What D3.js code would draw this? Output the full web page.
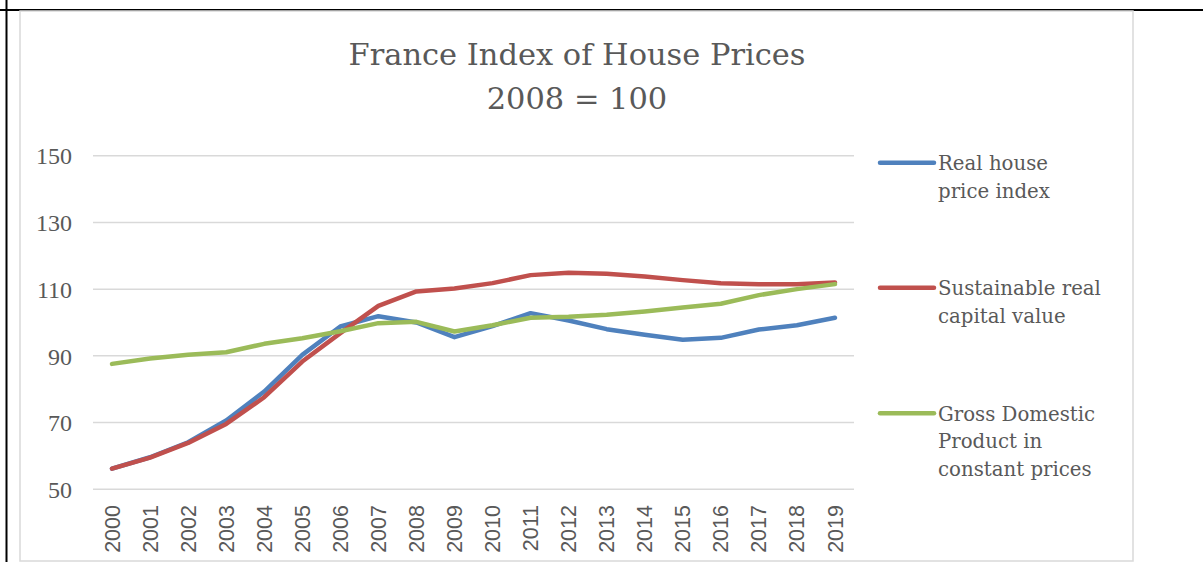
<!DOCTYPE html>
<html>
<head>
<meta charset="utf-8">
<script src="https://cdn.jsdelivr.net/npm/d3@7"></script>
<style>
  html, body { margin: 0; padding: 0; background: #fff; }
  svg { display: block; }
</style>
</head>
<body>
<div id="chart"></div>
<script>
// Data
const years = ["2000","2001","2002","2003","2004","2005","2006","2007","2008","2009",
               "2010","2011","2012","2013","2014","2015","2016","2017","2018","2019"];
const realHousePrice = [56.2, 59.6, 64.1, 70.6, 79.3, 90.3, 98.8, 101.9, 100.0, 95.6,
                        98.9, 102.8, 100.6, 98.0, 96.3, 94.8, 95.4, 97.9, 99.2, 101.4];
const sustainableValue = [56.2, 59.5, 63.9, 69.6, 77.6, 88.3, 96.8, 105.0, 109.3, 110.2,
                          111.8, 114.2, 114.9, 114.6, 113.8, 112.7, 111.8, 111.5, 111.5, 112.0];
const gdpConstant = [87.6, 89.2, 90.3, 91.1, 93.6, 95.3, 97.4, 99.8, 100.2, 97.3,
                     99.2, 101.4, 101.7, 102.3, 103.3, 104.5, 105.6, 108.2, 110.0, 111.5];
const seriesNames = [
  ["Real house", "price index"],
  ["Sustainable real", "capital value"],
  ["Gross Domestic", "Product in", "constant prices"]
];
const seriesColors = ["#4f81bd", "#c0504d", "#9bbb59"];
const yTicks = [50, 70, 90, 110, 130, 150];

const width = 1203, height = 562;
const serif = "'DejaVu Serif', 'Liberation Serif', serif";
const svg = d3.select("#chart").append("svg")
    .attr("width", width)
    .attr("height", height);

// outer black borders (page cut)
svg.append("line").attr("x1", 6.5).attr("x2", 6.5).attr("y1", 0).attr("y2", height)
    .attr("stroke", "#000").attr("stroke-width", 2);
svg.append("line").attr("x1", 0).attr("x2", width).attr("y1", 10).attr("y2", 10)
    .attr("stroke", "#000").attr("stroke-width", 2);

// chart frame
svg.append("rect")
    .attr("x", 20).attr("y", 11).attr("width", 1113).attr("height", 550)
    .attr("fill", "none").attr("stroke", "#d9d9d9").attr("stroke-width", 1.5);

const x = d3.scaleBand().domain(years).range([93, 854]);
const y = d3.scaleLinear().domain([50, 150]).range([489.3, 155.7]);
const cx = d => x(d) + x.bandwidth() / 2;

// scale a text's font size so it spans a target width
function fitWidth(textSel, target) {
    const base = parseFloat(textSel.style("font-size"));
    const w = textSel.node().getComputedTextLength();
    return base * target / w;
}

// title
const title = svg.append("text")
    .attr("text-anchor", "middle")
    .attr("fill", "#595959")
    .style("font-family", serif)
    .style("font-size", "30px");
const t1 = title.append("tspan").attr("x", 577).attr("y", 65).text("France Index of House Prices");
title.append("tspan").attr("x", 577).attr("y", 109).text("2008 = 100");
title.style("font-size", fitWidth(t1, 457) + "px");

// gridlines
svg.append("g").selectAll("line")
    .data(yTicks)
    .join("line")
    .attr("x1", 93).attr("x2", 854)
    .attr("y1", d => y(d)).attr("y2", d => y(d))
    .attr("stroke", "#d9d9d9").attr("stroke-width", 1.5);

// y axis labels
const yAxis = svg.append("g")
    .attr("transform", "translate(72,0)")
    .call(d3.axisLeft(y).tickValues(yTicks).tickSize(0).tickPadding(0));
yAxis.select(".domain").remove();
yAxis.selectAll("text")
    .attr("fill", "#595959")
    .style("font-family", "'Liberation Serif', serif")
    .style("font-size", "24px")
    .attr("dy", "0.34em");

// x axis labels
const xAxis = svg.append("g")
    .attr("transform", "translate(0,505)")
    .call(d3.axisBottom(x).tickSize(0).tickPadding(0));
xAxis.select(".domain").remove();
xAxis.selectAll("text")
    .attr("fill", "#595959")
    .style("font-family", "'Liberation Sans', sans-serif")
    .style("font-size", "21.5px")
    .attr("text-anchor", "end")
    .attr("transform", "rotate(-90)")
    .attr("x", 0).attr("y", 0)
    .attr("dx", 0).attr("dy", "0.35em");

// lines
const line = d3.line()
    .x((d, i) => cx(years[i]))
    .y(d => y(d));

const allSeries = [realHousePrice, sustainableValue, gdpConstant];
svg.append("g").selectAll("path")
    .data(allSeries)
    .join("path")
    .attr("d", d => line(d))
    .attr("fill", "none")
    .attr("stroke", (d, i) => seriesColors[i])
    .attr("stroke-width", 4.5)
    .attr("stroke-linejoin", "round")
    .attr("stroke-linecap", "round");

// legend
const legendY = [162.7, 287.7, 413.3];
const legend = svg.append("g").selectAll("g")
    .data(seriesNames)
    .join("g")
    .attr("transform", (d, i) => `translate(0,${legendY[i]})`);
legend.append("line")
    .attr("x1", 880).attr("x2", 934)
    .attr("stroke", (d, i) => seriesColors[i])
    .attr("stroke-width", 4.5)
    .attr("stroke-linecap", "round");
const legendText = legend.append("text")
    .attr("fill", "#595959")
    .style("font-family", serif)
    .style("font-size", "19px");
legendText.selectAll("tspan")
    .data(d => d)
    .join("tspan")
    .attr("x", 938)
    .attr("y", (d, i) => 7.5 + i * 27.6)
    .text(d => d);
const legendSize = fitWidth(legendText.filter((d, i) => i === 1).select("tspan"), 163);
legendText.style("font-size", legendSize + "px");
</script>
</body>
</html>
